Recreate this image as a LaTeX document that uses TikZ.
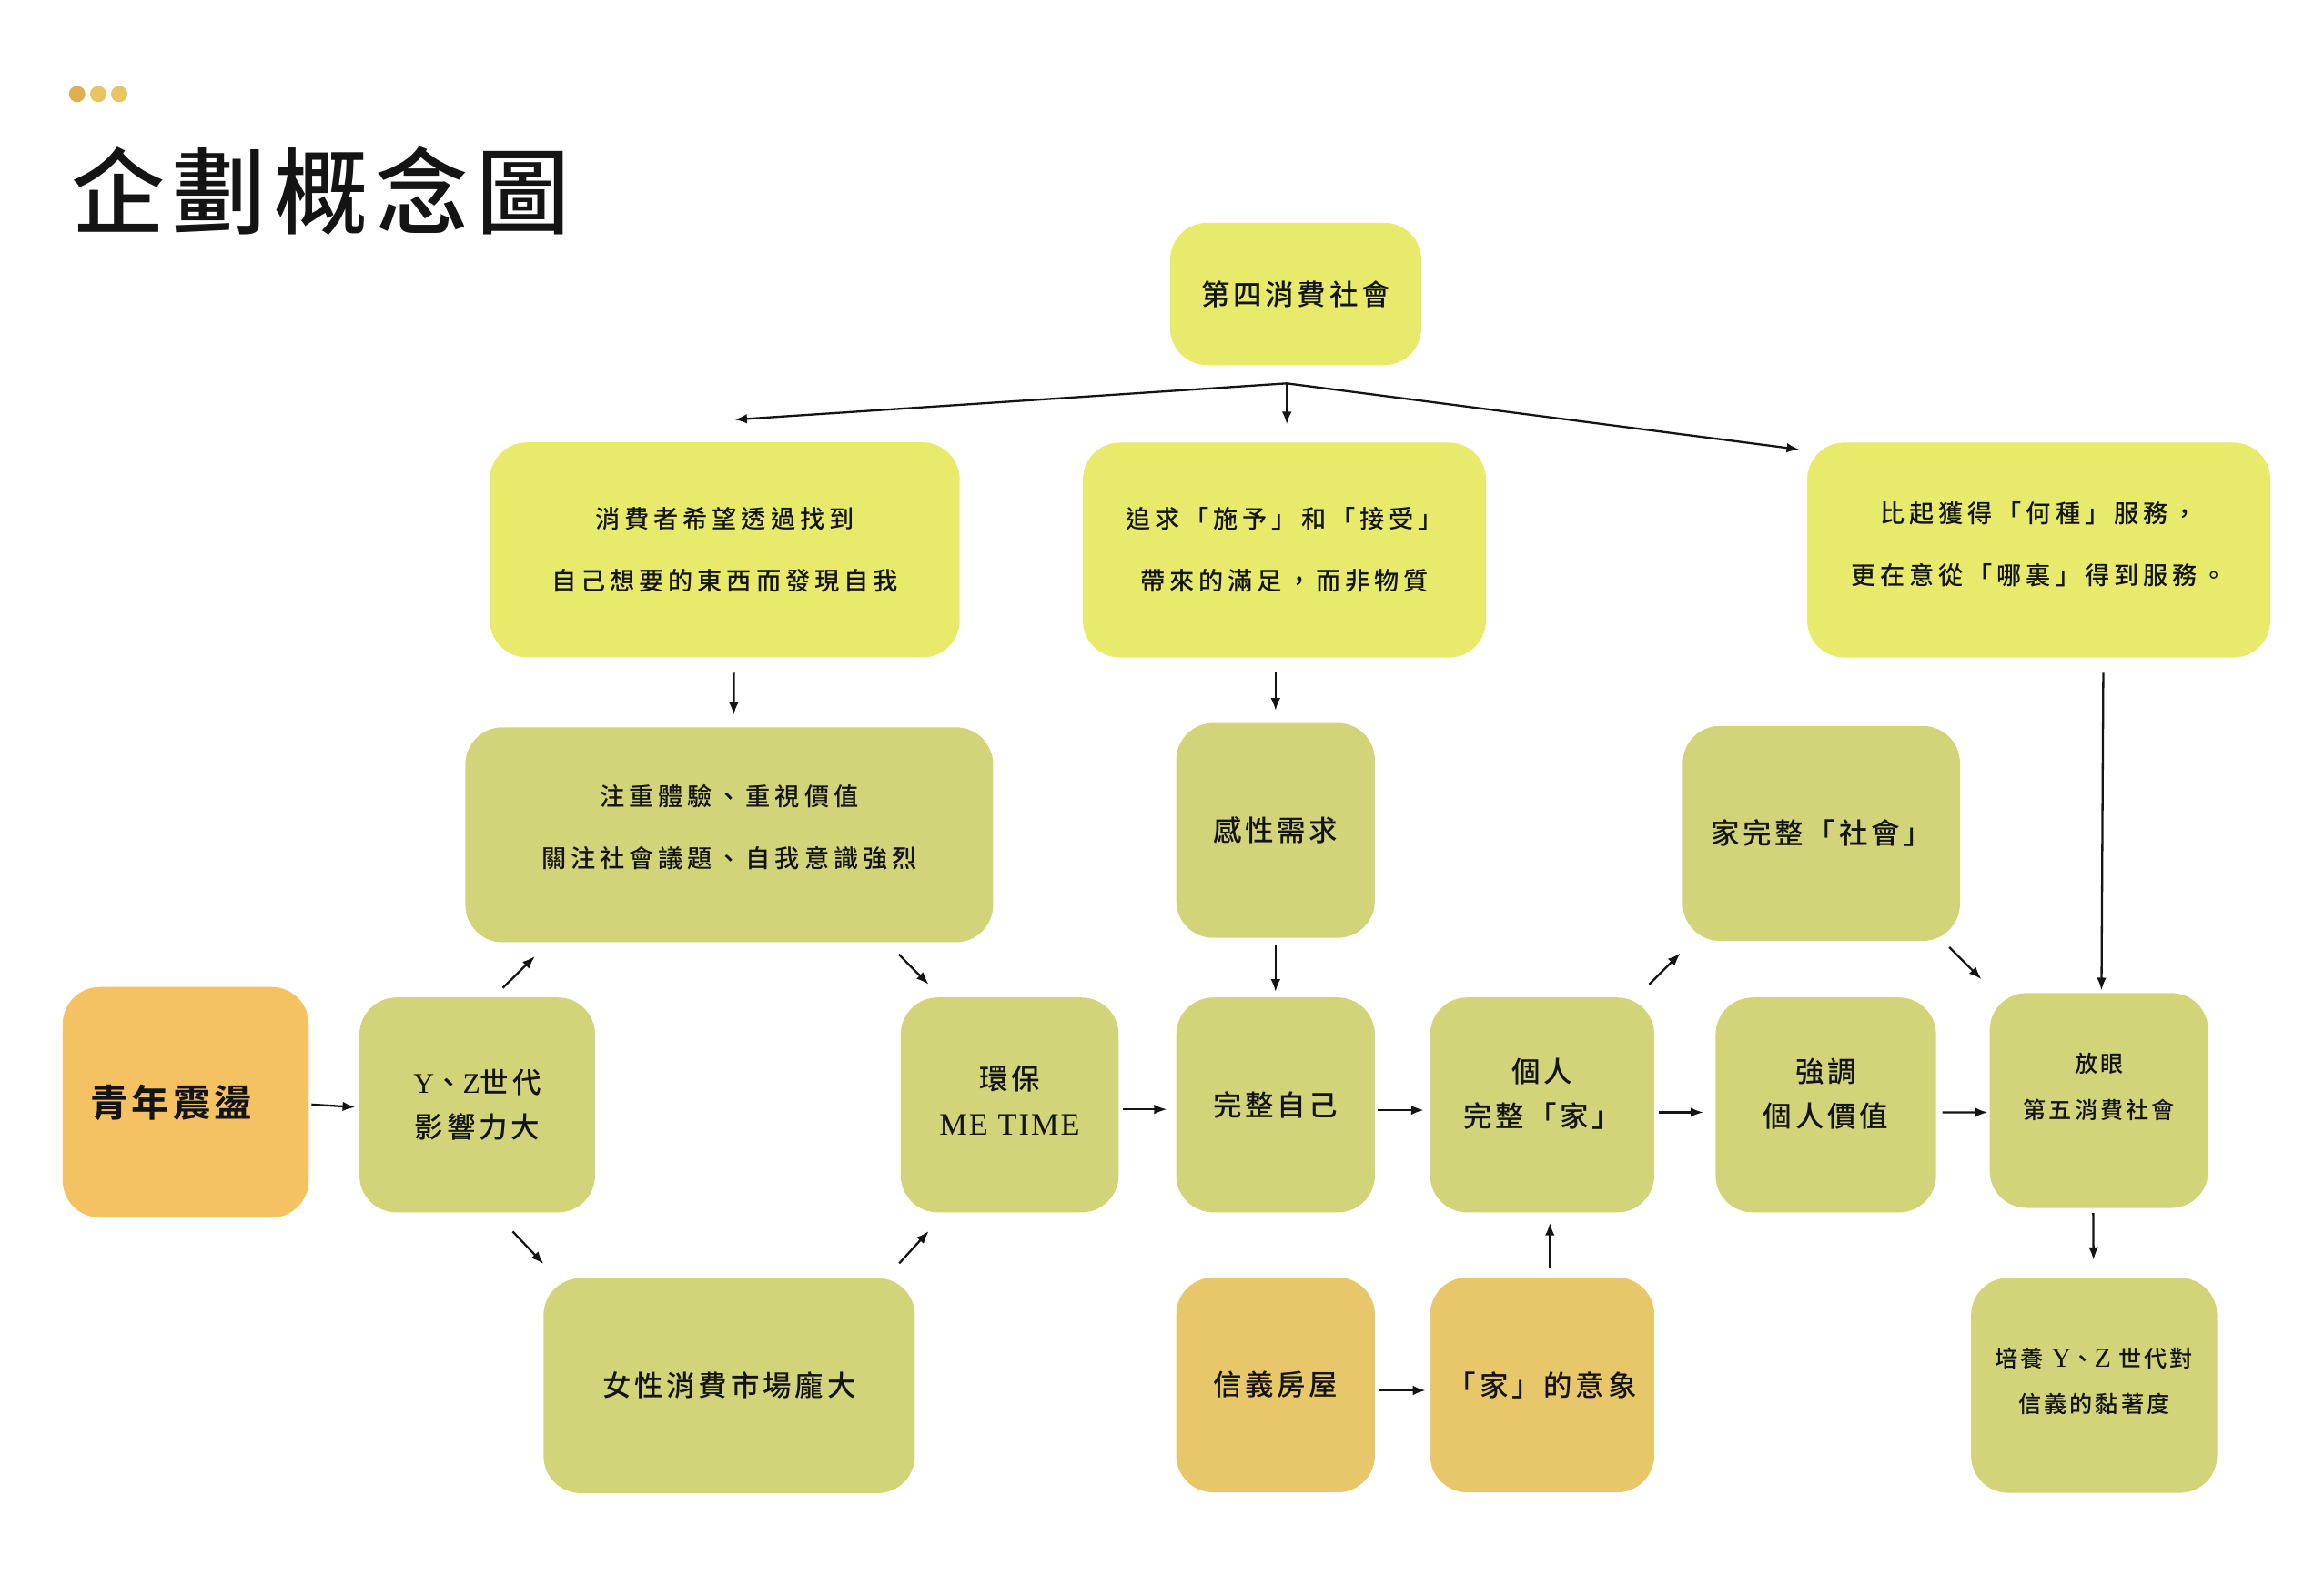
\documentclass[tikz,border=0pt]{standalone}
\usepackage{fontspec}
\setmainfont{Noto Sans CJK TC}
\newfontfamily\cjk{Noto Sans CJK TC Medium}[LetterSpace=12]
\newfontfamily\cjkw{Noto Sans CJK TC Medium}[LetterSpace=18]
\newfontfamily\cjkb{Noto Sans CJK TC Bold}[LetterSpace=10]
\newfontfamily\cjkt{Noto Sans CJK TC Medium}[LetterSpace=8]
\newfontfamily\latn{Liberation Serif}[LetterSpace=6]
\usetikzlibrary{positioning, arrows.meta}

\definecolor{lemonfill}{HTML}{E8EA6B}
\definecolor{olivefill}{HTML}{D2D47A}
\definecolor{amberfill}{HTML}{E8C66A}
\definecolor{youthfill}{HTML}{F5C263}
\definecolor{dotdark}{HTML}{E0B050}
\definecolor{dotlight}{HTML}{E8C462}
\definecolor{ink}{HTML}{141414}

\begin{document}
\begin{tikzpicture}[
  box/.style={rounded corners=5mm, minimum height=29mm, align=center,
    inner sep=0pt, text=ink},
  lemon/.style={box, fill=lemonfill},
  olive/.style={box, fill=olivefill},
  amber/.style={box, fill=amberfill},
  txtmain/.style={font=\cjk\fontsize{11pt}{6.1mm}\selectfont},
  txtwide/.style={font=\cjkw\fontsize{9.5pt}{8.4mm}\selectfont},
  txtsmall/.style={font=\cjk\fontsize{8.8pt}{6.2mm}\selectfont},
  arr/.style={-{Latex[length=1.7mm, width=1.3mm]}, line width=0.8pt, draw=ink}
]
\useasboundingbox (0,0) rectangle (313.6mm,-212.6mm);

% header
\fill[dotdark] (10.41mm,-12.69mm) circle (1.1mm);
\fill[dotlight] (13.26mm,-12.69mm) circle (1.1mm);
\fill[dotlight] (16.09mm,-12.69mm) circle (1.1mm);
\node[anchor=west, inner sep=0pt, text=ink,
  font=\cjkt\fontsize{36pt}{40pt}\selectfont] (title) at (9.6mm,-25.8mm) {企劃概念圖};

\node[lemon, minimum width=33.9mm, minimum height=19.2mm, txtmain] (fourth)
  at (174.84mm,-39.66mm) {第四消費社會};

% middle row
\node[box, fill=youthfill, minimum height=31.1mm, text width=25.8mm, inner xsep=3.7mm,
  align=left, font=\cjkb\fontsize{14.5pt}{17pt}\selectfont] (youth)
  at (25.06mm,-148.74mm) {青年震盪};
\node[olive, minimum width=31.8mm, right=6.7mm of youth, yshift=-0.36mm, txtmain] (yz)
  {{\latn Y}、{\latn Z}世代\\影響力大};
\node[olive, minimum width=29.4mm, right=41.1mm of yz, text depth=1.2mm, txtmain] (eco)
  {環保\\{\latn\fontsize{12pt}{6.1mm}\selectfont ME TIME}};
\node[olive, minimum width=26.8mm, right=7.64mm of eco, txtmain] (self) {完整自己};
\node[olive, minimum width=30.24mm, right=7.32mm of self, text depth=3.3mm, txtmain] (home)
  {個人\\完整「家」};
\node[olive, minimum width=29.74mm, right=8.14mm of home, text depth=3.3mm, txtmain] (value)
  {強調\\個人價值};
\node[olive, minimum width=29.5mm, right=7.1mm of value, yshift=0.6mm, text depth=4mm,
  txtsmall] (fifth) {放眼\\第五消費社會};

% upper rows
\node[olive, minimum width=71.2mm, text depth=2.4mm, txtwide] (focus) at (98.4mm,-112.64mm)
  {注重體驗、重視價值\\關注社會議題、自我意識強烈};
\node[olive, minimum width=26.8mm, above=7.9mm of self, txtmain] (feel) {感性需求};
\node[olive, minimum width=37.4mm, above=7.5mm of value, xshift=-0.6mm, txtmain] (social)
  {家完整「社會」};
\node[lemon, minimum width=63.4mm, above=9.3mm of focus, xshift=-0.6mm, txtwide] (seek)
  {消費者希望透過找到\\自己想要的東西而發現自我};
\node[lemon, minimum width=54.4mm, above=8.7mm of feel, xshift=1.2mm, txtwide] (give)
  {追求「施予」和「接受」\\帶來的滿足，而非物質};
\node[lemon, minimum width=62.5mm, right=43.2mm of give, text depth=1.8mm, txtwide] (where)
  {比起獲得「何種」服務，\\更在意從「哪裏」得到服務。};

% lower row
\node[olive, minimum width=50.1mm, below=45.2mm of focus, txtmain] (women) {女性消費市場龐大};
\node[amber, minimum width=26.8mm, below=8.64mm of self, txtmain] (xinyi) {信義房屋};
\node[amber, minimum width=30.24mm, below=8.64mm of home, txtmain] (image) {「家」的意象};
\node[olive, minimum width=33.2mm, below=9.3mm of fifth, xshift=-0.66mm, text depth=1.4mm,
  txtsmall] (raise)
  {培養 {\latn\fontsize{10.5pt}{6.2mm}\selectfont Y}、{\latn\fontsize{10.5pt}{6.2mm}\selectfont Z} 世代對\\信義的黏著度};

\coordinate (fork) at ([xshift=-1.2mm, yshift=-2.4mm]fourth.south);
\draw[arr] (fork) -- ([xshift=1.3mm, yshift=3mm]seek.north);
\draw[arr] (fork) -- ([yshift=2.4mm]fork |- give.north);
\draw[arr] (fork) -- ([xshift=-1mm, yshift=-1mm]where.north west);

\draw[arr] ([xshift=1.24mm, yshift=-2mm]seek.south) -- ([xshift=0.6mm, yshift=1.6mm]focus.north);
\draw[arr] ([xshift=-1.2mm, yshift=-2mm]give.south) -- ([yshift=1.6mm]feel.north);
\draw[arr] ([xshift=8.7mm, yshift=-2mm]where.south) -- ([xshift=0.34mm, yshift=0.3mm]fifth.north);
\draw[arr] ([yshift=-0.8mm]feel.south) -- ([yshift=0.7mm]self.north);

\draw[arr] ([xshift=0.3mm, yshift=-0.3mm]youth.east) -- ([xshift=-0.5mm, yshift=-0.3mm]yz.west);
\draw[arr] ([xshift=0.5mm, yshift=-0.6mm]eco.east) -- ([xshift=-1.2mm, yshift=-0.6mm]self.west);
\draw[arr] ([xshift=0.3mm, yshift=-0.7mm]self.east) -- ([xshift=-0.8mm, yshift=-0.7mm]home.west);
\draw[arr] ([xshift=0.5mm, yshift=-1mm]home.east) -- ([xshift=-1.6mm, yshift=-1mm]value.west);
\draw[arr] ([xshift=0.8mm, yshift=-1mm]value.east) -- ([xshift=-0.2mm, yshift=-1.6mm]fifth.west);

\draw[arr] ([shift={(3.44mm,1.22mm)}]yz.north) -- ([shift={(9.44mm,-1.84mm)}]focus.south west);
\draw[arr] ([shift={(-12.78mm,-1.58mm)}]focus.south east) -- ([shift={(3.84mm,1.7mm)}]eco.north west);
\draw[arr] ([shift={(4.78mm,-2.5mm)}]yz.south) -- ([shift={(0.06mm,1.86mm)}]women.north west);
\draw[arr] ([shift={(-2.18mm,1.94mm)}]women.north east) -- ([shift={(3.84mm,-2.46mm)}]eco.south west);
\draw[arr] ([shift={(-0.76mm,1.7mm)}]home.north east) -- ([shift={(-0.26mm,-1.6mm)}]social.south west);
\draw[arr] ([shift={(-1.52mm,-0.78mm)}]social.south east) -- ([shift={(-1.04mm,1.8mm)}]fifth.north west);
\draw[arr] ([shift={(1.04mm,1.1mm)}]image.north) -- ([shift={(1.04mm,-1.34mm)}]home.south);
\draw[arr] ([shift={(0.44mm,-0.74mm)}]xinyi.east) -- ([shift={(-0.56mm,-0.74mm)}]image.west);
\draw[arr] ([shift={(-0.78mm,-0.62mm)}]fifth.south) -- ([shift={(-0.08mm,2.36mm)}]raise.north);
\end{tikzpicture}
\end{document}
